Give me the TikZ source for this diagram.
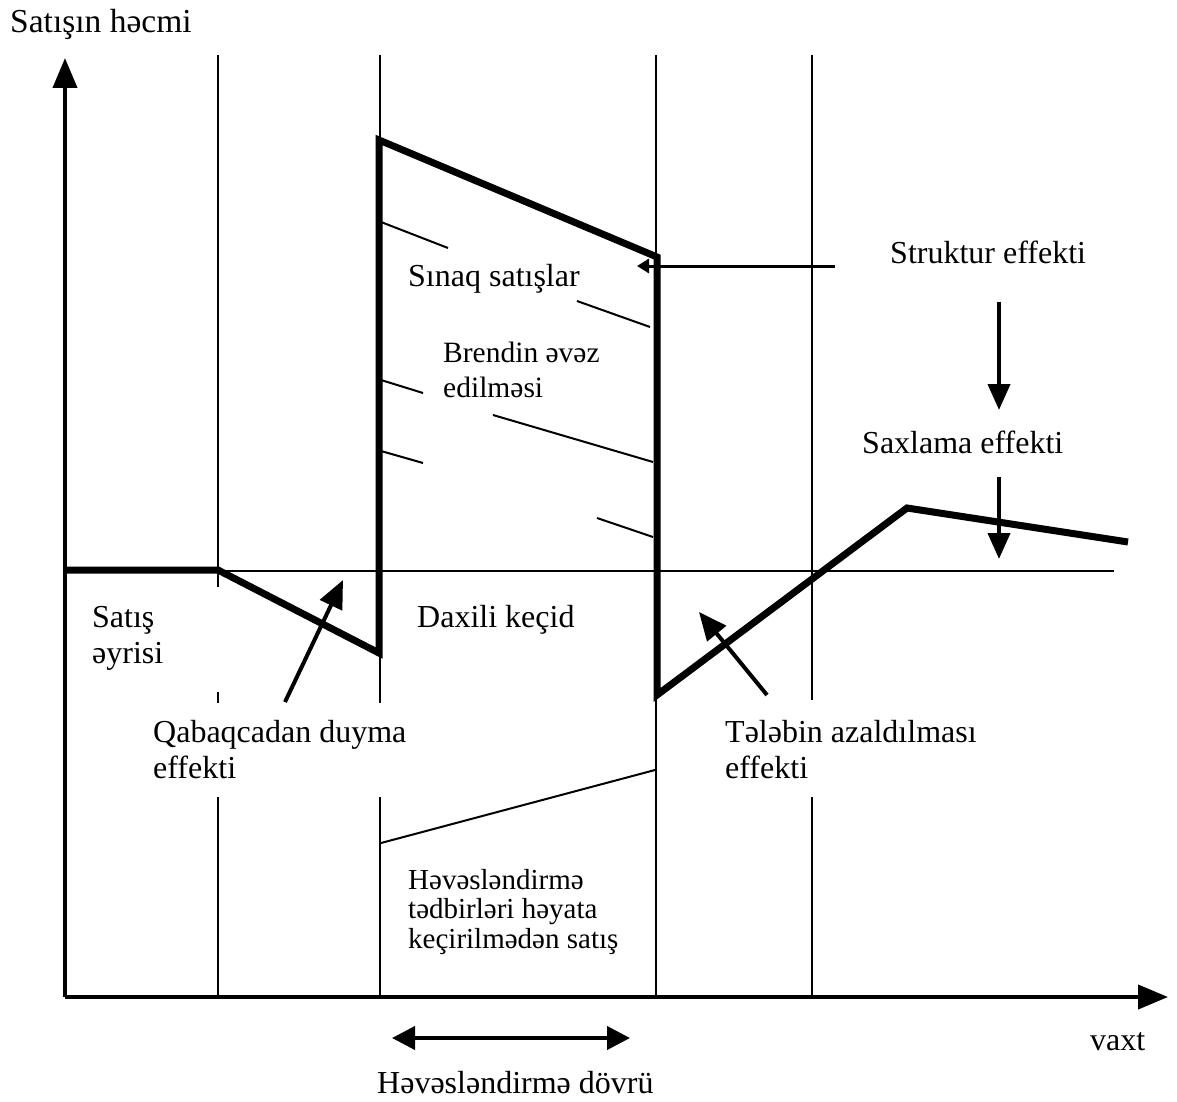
\documentclass[tikz,border=0pt]{standalone}
\usepackage{fontspec}
\setmainfont{Liberation Serif}
\usetikzlibrary{arrows.meta}
\tikzset{
  thinline/.style={line width=2pt},
  axisline/.style={line width=4pt},
  curveline/.style={line width=7pt, line join=miter},
  effarrow/.style={line width=4pt, -{Triangle[length=28pt,width=24pt]}},
  txt/.style={inner sep=0pt, anchor=base west, align=left, font=\fontsize{32}{35.5}\selectfont},
  smalltxt/.style={inner sep=0pt, anchor=base west, align=left, font=\fontsize{29.5}{35}\selectfont},
  smallertxt/.style={inner sep=0pt, anchor=base west, align=left, font=\fontsize{29}{29.5}\selectfont},
}
\begin{document}
\begin{tikzpicture}[x=1pt,y=-1pt]
\useasboundingbox (0,0) rectangle (1177,1102);

% axes
\coordinate (O) at (65,997);
\coordinate (ytip) at (65,58);
\coordinate (xtip) at (1168,997);
\draw[axisline, -{Triangle[length=30pt,width=24pt]}] (O) -- (ytip);
\draw[axisline, -{Triangle[length=30pt,width=24pt]}] (O) -- (xtip);

% period boundaries
\draw[thinline] (218,55) -- (218,587);
\draw[thinline] (218,692) -- (218,703);
\draw[thinline] (218,797) -- (218,997);
\draw[thinline] (380,55) -- (380,145);
\draw[thinline] (380,650) -- (380,703);
\draw[thinline] (380,797) -- (380,997);
\draw[thinline] (656,55) -- (656,260);
\draw[thinline] (656,690) -- (656,997);
\draw[thinline] (812,55) -- (812,700);
\draw[thinline] (812,797) -- (812,997);

% base sales level
\draw[thinline] (65,571) -- (1114,571);

% hatching in the promotion area
\draw[thinline] (381,222) -- (448,248);
\draw[thinline] (577,301) -- (650,327);
\draw[thinline] (381,380) -- (423,393);
\draw[thinline] (493,415) -- (653,462);
\draw[thinline] (381,451) -- (423,463);
\draw[thinline] (597,518) -- (653,537);

% sales without promotion
\draw[thinline] (381,843) -- (655,770);

% sales curve
\draw[curveline] (65,570) -- (218,570) -- (379,653) -- (379,140) -- (657,257)
  -- (657,695) -- (907,508) -- (1128,542);

% labels (multi-line labels are placed by the baseline of their last line)
\node[txt, font=\fontsize{33.5}{36}\selectfont] (yl) at (10,33) {Satışın həcmi};
\node[txt] (vaxt) at (1090,1050) {vaxt};
\node[txt] (sinaq) at (408,286) {Sınaq satışlar};
\node[smalltxt] (brend) at (443,397) {Brendin əvəz\\edilməsi};
\node[txt] (strukt) at (890,263) {Struktur effekti};
\node[txt] (saxl) at (862,453) {Saxlama effekti};
\node[txt] (satis) at (92,663) {Satış\\əyrisi};
\node[txt] (daxili) at (417,627) {Daxili keçid};
\node[txt] (qabaq) at (153,778) {Qabaqcadan duyma\\effekti};
\node[txt] (teleb) at (725,778) {Tələbin azaldılması\\effekti};
\node[smallertxt] (hevesl) at (408,948) {Həvəsləndirmə\\tədbirləri həyata\\keçirilmədən satış};
\node[txt] (dovr) at (377,1093) {Həvəsləndirmə dövrü};

% effect arrows
\coordinate (qa) at (285,702);
\coordinate (qb) at (343,580);
\draw[effarrow] (qa) -- (qb);
\coordinate (ta) at (767,695);
\coordinate (tb) at (699,612);
\draw[effarrow] (ta) -- (tb);
\coordinate (sa) at (999,302);
\coordinate (sb) at (999,410);
\draw[line width=4pt, -{Triangle[length=26pt,width=22pt]}] (sa) -- (sb);
\coordinate (xa) at (999,477);
\coordinate (xb) at (999,559);
\draw[line width=4pt, -{Triangle[length=26pt,width=22pt]}] (xa) -- (xb);
\coordinate (ka) at (835,266);
\coordinate (kb) at (637,266);
\draw[line width=3pt, -{Triangle[length=12pt,width=14pt]}] (ka) -- (kb);

% promotion period
\coordinate (pa) at (392,1038);
\coordinate (pb) at (630,1038);
\draw[line width=4pt, {Triangle[length=23pt,width=23pt]}-{Triangle[length=23pt,width=23pt]}] (pa) -- (pb);
\end{tikzpicture}
\end{document}
